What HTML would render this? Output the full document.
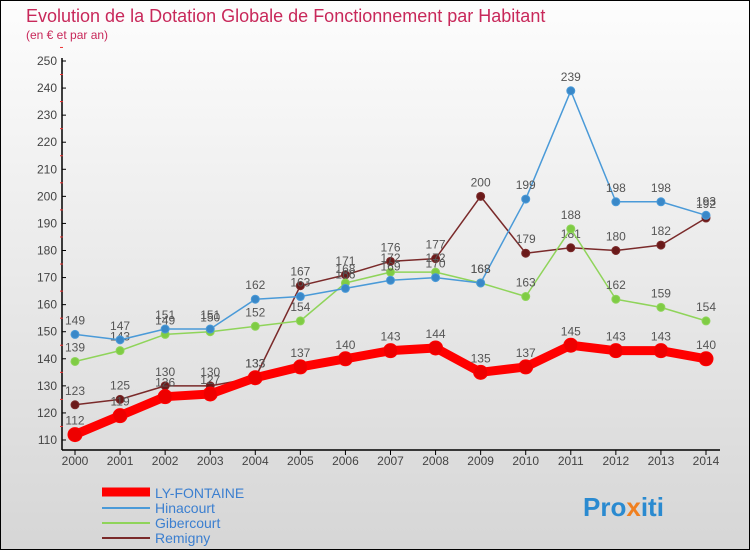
<!DOCTYPE html>
<html><head><meta charset="utf-8"><style>
body{margin:0;width:750px;height:550px;overflow:hidden;font-family:"Liberation Sans",sans-serif}
svg text{font-family:"Liberation Sans",sans-serif}
</style></head><body>
<svg id="c" width="750" height="550" xmlns="http://www.w3.org/2000/svg">
<defs><linearGradient id="bg" x1="0" y1="0" x2="0" y2="1"><stop offset="0" stop-color="#fdfdfd"/><stop offset="1" stop-color="#d6d6d6"/></linearGradient></defs>
<rect x="0.5" y="0.5" width="749" height="549" fill="url(#bg)" stroke="#000"/>
<text x="26" y="22" font-size="18" fill="#c8285a">Evolution de la Dotation Globale de Fonctionnement par Habitant</text>
<text x="26" y="39" font-size="12" fill="#c8285a">(en € et par an)</text>
<g id="axes"></g><g id="series"></g>
<g>
<line x1="102" y1="492" x2="150" y2="492" stroke="#f00" stroke-width="9"/>
<text x="155" y="498" font-size="14" fill="#3b7fd0">LY-FONTAINE</text>
<line x1="102" y1="508" x2="150" y2="508" stroke="#4a9ad8" stroke-width="2"/>
<text x="155" y="513" font-size="14" fill="#3b7fd0">Hinacourt</text>
<line x1="102" y1="523" x2="150" y2="523" stroke="#8fd45a" stroke-width="2"/>
<text x="155" y="528" font-size="14" fill="#3b7fd0">Gibercourt</text>
<line x1="102" y1="538" x2="150" y2="538" stroke="#7a2a2a" stroke-width="2"/>
<text x="155" y="543" font-size="14" fill="#3b7fd0">Remigny</text>
</g>
<text x="583" y="516" font-size="26" font-weight="bold" fill="#2a8ad0">Pro<tspan fill="#f08020">x</tspan>iti</text>
</svg>
<script>
const years=[2000,2001,2002,2003,2004,2005,2006,2007,2008,2009,2010,2011,2012,2013,2014];
const yTicks=[110,120,130,140,150,160,170,180,190,200,210,220,230,240,250];
const lyFontaine=[112,119,126,127,133,137,140,143,144,135,137,145,143,143,140];
const hinacourt=[149,147,151,151,162,163,166,169,170,168,199,239,198,198,193];
const gibercourt=[139,143,149,150,152,154,168,172,172,168,163,188,162,159,154];
const remigny=[123,125,130,130,133,167,171,176,177,200,179,181,180,182,192];
const NS="http://www.w3.org/2000/svg";
const X=i=>75+i*(706-75)/(years.length-1);
const Y=v=>440-(v-110)*(440-61)/140;
function mk(p,t,a){const e=document.createElementNS(NS,t);for(const k in a)e.setAttribute(k,a[k]);p.appendChild(e);return e;}
const ax=document.getElementById('axes');
const yl=mk(ax,'line',{x1:62,y1:58,x2:62,y2:450,stroke:'#000','stroke-width':1.5});


const xl=mk(ax,'line',{x1:62,y1:450,x2:720,y2:450,stroke:'#000','stroke-width':1.5});


yTicks.forEach(v=>{
 mk(ax,'line',{x1:62,y1:Y(v),x2:66,y2:Y(v),stroke:'#000'});
 mk(ax,'line',{x1:60,y1:Y(v+5),x2:63,y2:Y(v+5),stroke:'#e33'});
 const t=mk(ax,'text',{x:57,y:Y(v)+4,'font-size':12,fill:'#444','text-anchor':'end'});t.textContent=v;
 
 
});
years.forEach((y,i)=>{
 mk(ax,'line',{x1:X(i),y1:450,x2:X(i),y2:455,stroke:'#000'});
 const t=mk(ax,'text',{x:X(i),y:465,'font-size':12,fill:'#444','text-anchor':'middle'});t.textContent=y;
 
 
});
const sg=document.getElementById('series');
function series(name,data,color,w,r,fill){
 const g=mk(sg,'g',{});
 
 
 const pl=mk(g,'polyline',{points:data.map((v,i)=>X(i)+','+Y(v)).join(' '),fill:'none',stroke:color,'stroke-width':w,'stroke-linejoin':'round'});
 
 
 data.forEach((v,i)=>{
  const c=mk(g,'circle',{cx:X(i),cy:Y(v),r:r,fill:fill,stroke:color,'stroke-width':1});
  
  
  const t=mk(g,'text',{x:X(i),y:Y(v)-10,'font-size':12,fill:'#555','text-anchor':'middle'});t.textContent=v;
  
  
 });
}
series('remigny',remigny,'#7a2a2a',1.5,4,'#6b1a1a');
series('gibercourt',gibercourt,'#8fd45a',1.5,4,'#7fcc44');
series('hinacourt',hinacourt,'#4a9ad8',1.5,4,'#3a88c8');
series('ly-fontaine',lyFontaine,'#ff0000',9,7,'#ee0000');
</script>
</body></html>
